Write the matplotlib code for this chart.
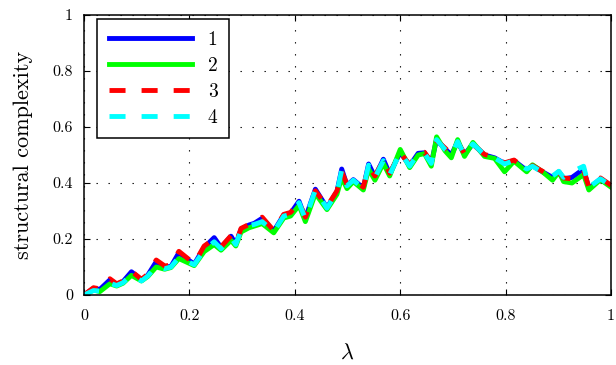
import matplotlib
matplotlib.use('Agg')
import matplotlib.pyplot as plt
from matplotlib.ticker import FuncFormatter, MultipleLocator

plt.rcParams['font.family'] = 'cmr10'
plt.rcParams['mathtext.fontset'] = 'cm'
plt.rcParams['axes.formatter.use_mathtext'] = True

lam = [0.000, 0.018, 0.030, 0.049, 0.062, 0.074, 0.090, 0.109, 0.121, 0.137,
       0.153, 0.165, 0.180, 0.209, 0.228, 0.247, 0.260, 0.279, 0.288, 0.298,
       0.313, 0.323, 0.338, 0.360, 0.379, 0.392, 0.408, 0.420, 0.439, 0.461,
       0.480, 0.489, 0.499, 0.511, 0.530, 0.540, 0.552, 0.568, 0.580, 0.600,
       0.618, 0.634, 0.646, 0.659, 0.669, 0.685, 0.697, 0.709, 0.722, 0.738,
       0.760, 0.779, 0.798, 0.816, 0.840, 0.851, 0.870, 0.889, 0.901, 0.910,
       0.926, 0.948, 0.958, 0.980, 1.000]

s1 = [0.000, 0.024, 0.020, 0.054, 0.038, 0.048, 0.083, 0.054, 0.071, 0.119,
      0.100, 0.102, 0.151, 0.110, 0.170, 0.205, 0.170, 0.210, 0.182, 0.235,
      0.250, 0.256, 0.274, 0.228, 0.286, 0.292, 0.335, 0.274, 0.378, 0.312,
      0.370, 0.450, 0.392, 0.412, 0.382, 0.468, 0.422, 0.485, 0.432, 0.510,
      0.462, 0.506, 0.508, 0.472, 0.555, 0.522, 0.500, 0.548, 0.502, 0.540,
      0.500, 0.490, 0.470, 0.480, 0.445, 0.462, 0.440, 0.420, 0.440, 0.415,
      0.420, 0.450, 0.380, 0.415, 0.390]

s2 = [0.000, 0.018, 0.012, 0.040, 0.032, 0.042, 0.070, 0.050, 0.066, 0.100,
      0.092, 0.098, 0.130, 0.105, 0.155, 0.180, 0.160, 0.195, 0.175, 0.225,
      0.240, 0.246, 0.255, 0.222, 0.275, 0.282, 0.320, 0.262, 0.362, 0.305,
      0.360, 0.420, 0.380, 0.405, 0.375, 0.450, 0.410, 0.470, 0.425, 0.520,
      0.455, 0.500, 0.505, 0.460, 0.565, 0.515, 0.490, 0.555, 0.495, 0.545,
      0.495, 0.488, 0.440, 0.478, 0.440, 0.465, 0.440, 0.410, 0.440, 0.405,
      0.400, 0.430, 0.375, 0.412, 0.385]

s3 = [0.000, 0.026, 0.022, 0.058, 0.040, 0.050, 0.085, 0.056, 0.074, 0.125,
      0.104, 0.106, 0.156, 0.112, 0.175, 0.200, 0.172, 0.212, 0.185, 0.238,
      0.252, 0.258, 0.278, 0.230, 0.288, 0.295, 0.332, 0.278, 0.372, 0.316,
      0.372, 0.440, 0.395, 0.415, 0.385, 0.460, 0.425, 0.482, 0.435, 0.508,
      0.465, 0.508, 0.510, 0.475, 0.552, 0.525, 0.502, 0.545, 0.505, 0.538,
      0.502, 0.492, 0.472, 0.482, 0.448, 0.462, 0.442, 0.422, 0.438, 0.418,
      0.415, 0.445, 0.385, 0.418, 0.392]

s4 = [0.000, 0.016, 0.014, 0.042, 0.034, 0.044, 0.072, 0.050, 0.068, 0.104,
      0.094, 0.100, 0.135, 0.108, 0.160, 0.190, 0.165, 0.205, 0.180, 0.232,
      0.248, 0.252, 0.262, 0.226, 0.282, 0.288, 0.330, 0.272, 0.375, 0.310,
      0.368, 0.446, 0.390, 0.410, 0.380, 0.464, 0.420, 0.480, 0.430, 0.510,
      0.460, 0.505, 0.506, 0.470, 0.555, 0.520, 0.500, 0.548, 0.500, 0.540,
      0.500, 0.490, 0.468, 0.480, 0.450, 0.460, 0.438, 0.425, 0.442, 0.420,
      0.440, 0.460, 0.385, 0.415, 0.390]

series = [s1, s2, s3, s4]
labels = ['1', '2', '3', '4']
colors = ['#0000ff', '#00ff00', '#ff0000', '#00ffff']
styles = ['-', '-', (0, (3.3, 3.3)), (0, (3.3, 3.3))]

fig = plt.figure(figsize=(6.16, 3.65), dpi=100)
ax = fig.add_axes([0.1364, 0.1918, 0.8555, 0.767])

for y, lab, c, ls in zip(series, labels, colors, styles):
    ax.plot(lam, y, color=c, linestyle=ls, linewidth=3.5, label=lab,
            solid_joinstyle='round', dash_capstyle='butt')

ax.set_xlim(0, 1)
ax.set_ylim(0, 1)
ax.xaxis.set_major_locator(MultipleLocator(0.2))
ax.yaxis.set_major_locator(MultipleLocator(0.2))
fmt = FuncFormatter(lambda v, _: f'{v:g}')
ax.xaxis.set_major_formatter(fmt)
ax.yaxis.set_major_formatter(fmt)
ax.tick_params(direction='in', top=True, right=True, labelsize=11.5, length=4, width=0.8)
ax.tick_params(axis='x', pad=10)
ax.tick_params(axis='y', pad=8)
ax.grid(True, color='black', linestyle=(0, (1.2, 9.6)), linewidth=0.8)
for sp in ax.spines.values():
    sp.set_linewidth(1.1)

ax.set_xlabel(r'$\lambda$', fontsize=16, labelpad=15)
ax.set_ylabel('structural complexity', fontsize=16, labelpad=14)

leg = ax.legend(loc='upper left', bbox_to_anchor=(0.0245, 0.986), borderaxespad=0,
                fontsize=14, handlelength=4.3, handletextpad=0.8, borderpad=0.6,
                labelspacing=0.42, fancybox=False, framealpha=1)
leg.get_frame().set_edgecolor('black')
leg.get_frame().set_linewidth(1.1)

fig.savefig('out.png', dpi=100)
